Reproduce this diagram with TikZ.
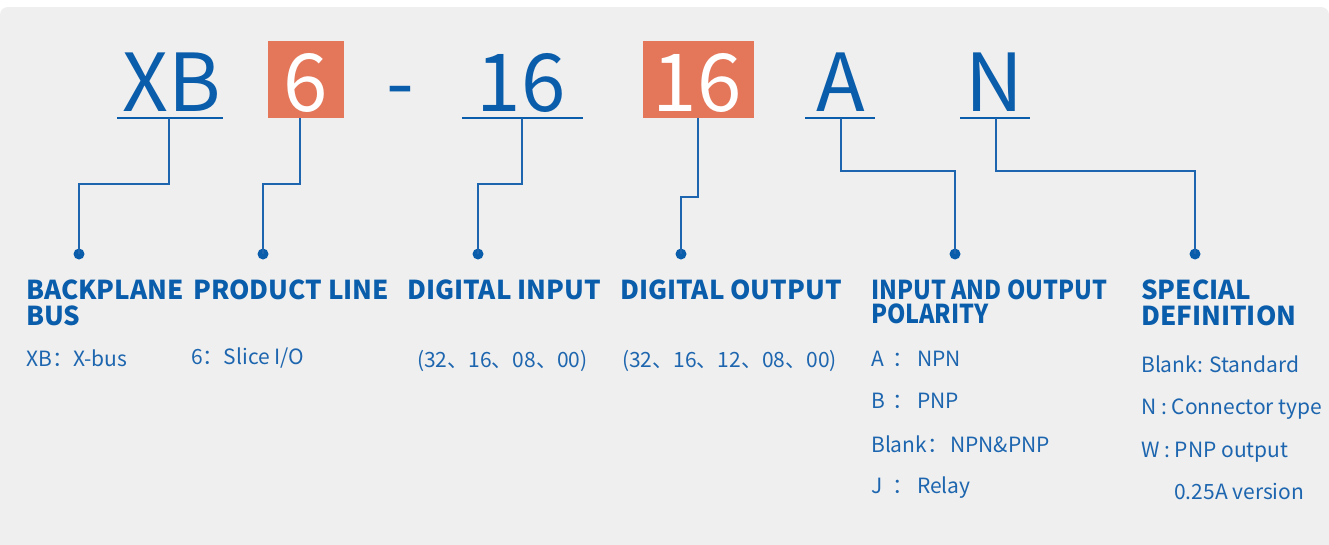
\documentclass[tikz,border=0pt]{standalone}
\usepackage{fontspec}
\setmainfont{Noto Sans CJK SC}
\definecolor{bg}{HTML}{EFEFEF}
\definecolor{blu}{HTML}{0A5DAB}
\definecolor{blt}{HTML}{1D66AF}
\definecolor{org}{HTML}{E4775A}
\tikzset{
  big/.style={font=\fontsize{80}{80}\selectfont, text=blu, inner sep=0pt, anchor=base},
  bigw/.style={font=\fontsize{80}{80}\selectfont, text=white, inner sep=0pt, anchor=base},
  head/.style={font=\fontsize{26}{26}\selectfont\bfseries, text=blu, inner sep=0pt, anchor=base west},
  body/.style={font=\fontsize{21}{24}\selectfont, text=blt, inner sep=0pt, anchor=base west},
  conn/.style={draw=blt, line width=2pt},
  ul/.style={draw=blu, line width=2.2pt},
  dotn/.style={circle, fill=blu, minimum size=11pt, inner sep=0pt},
  obox/.style={fill=org, inner sep=0pt}
}
\begin{document}
\begin{tikzpicture}[x=1pt,y=-1pt]
\useasboundingbox (0,0) rectangle (1329,544);
\clip (0,0) rectangle (1329,544);
\fill[white] (0,0) rectangle (1329,544);
\fill[bg, rounded corners=8pt] (0,7) rectangle (1329,580);

% code letters
\node[big] (xb) at (172,111) {XB};
\node[obox, minimum width=76pt, minimum height=77pt] (box6) at (306,79.5) {};
\node[bigw] (six) at (306,111) {6};
\node[big] (dash) at (400,111) {-};
\node[big] (in16) at (521,111) {16};
\node[obox, minimum width=111pt, minimum height=77pt] (box16) at (698.5,79.5) {};
\node[bigw] (out16) at (697,111) {16};
\node[big] (a) at (841,111) {A};
\node[big] (n) at (994,111) {N};

% underlines
\coordinate (xbl) at (117,118); \coordinate (xbr) at (223,118);
\coordinate (inl) at (462,118); \coordinate (inr) at (583,118);
\coordinate (al) at (805,118); \coordinate (ar) at (875,118);
\coordinate (nl) at (960,118); \coordinate (nr) at (1030,118);
\draw[ul] (xbl) -- (xbr);
\draw[ul] (inl) -- (inr);
\draw[ul] (al) -- (ar);
\draw[ul] (nl) -- (nr);

% connector start points
\coordinate (sxb) at (169,118);
\coordinate (s6) at (300,117.5);
\coordinate (sin) at (522,118);
\coordinate (sout) at (698,117.5);
\coordinate (sa) at (841,118);
\coordinate (sn) at (996,118);

% dots
\node[dotn] (d1) at (79,254) {};
\node[dotn] (d2) at (263,254) {};
\node[dotn] (d3) at (478,254) {};
\node[dotn] (d4) at (681,254) {};
\node[dotn] (d5) at (955,254) {};
\node[dotn] (d6) at (1195,254) {};

% connectors
\draw[conn] (sxb) -- ++(0,66) -| (d1.center);
\draw[conn] (s6) -- ++(0,66.5) -| (d2.center);
\draw[conn] (sin) -- ++(0,66) -| (d3.center);
\draw[conn] (sout) -- ++(0,79.5) -| (d4.center);
\draw[conn] (sa) -- ++(0,53) -| (d5.center);
\draw[conn] (sn) -- ++(0,53) -| (d6.center);

% headings
\node[head] (h1a) at (26,299) {BACKPLANE};
\node[head] (h1b) at (26,325) {BUS};
\node[head] (h2) at (193,299) {PRODUCT LINE};
\node[head] (h3) at (407,299) {DIGITAL INPUT};
\node[head] (h4) at (620,299) {DIGITAL OUTPUT};
\node[head] (h5a) at (871,299) {\scalebox{0.9}[1]{INPUT AND OUTPUT}};
\node[head] (h5b) at (871,323) {\scalebox{0.9}[1]{POLARITY}};
\node[head] (h6a) at (1141,299) {SPECIAL};
\node[head] (h6b) at (1141,325) {DEFINITION};

% bodies
\node[body] (t1) at (26,366) {XB：X-bus};
\node[body] (t2) at (191,364) {6：Slice I/O};
\node[body] (t3) at (417,367) {(32、16、08、00)};
\node[body] (t4) at (622,367) {(32、16、12、08、00)};
\node[body] (t5a) at (871,366) {\makebox[21pt][l]{A}：\hspace{4pt}NPN};
\node[body] (t5b) at (871,408) {\makebox[21pt][l]{B}：\hspace{4pt}PNP};
\node[body] (t5c) at (871,452) {Blank：\hspace{2pt}NPN\&PNP};
\node[body] (t5d) at (871,493) {\makebox[21pt][l]{J}：\hspace{4pt}Relay};
\node[body] (t6a) at (1141,372) {Blank: Standard};
\node[body] (t6b) at (1141,414) {N : Connector type};
\node[body] (t6c) at (1141,457) {W : PNP output};
\node[body] (t6d) at (1174,499) {0.25A version};
\end{tikzpicture}
\end{document}
